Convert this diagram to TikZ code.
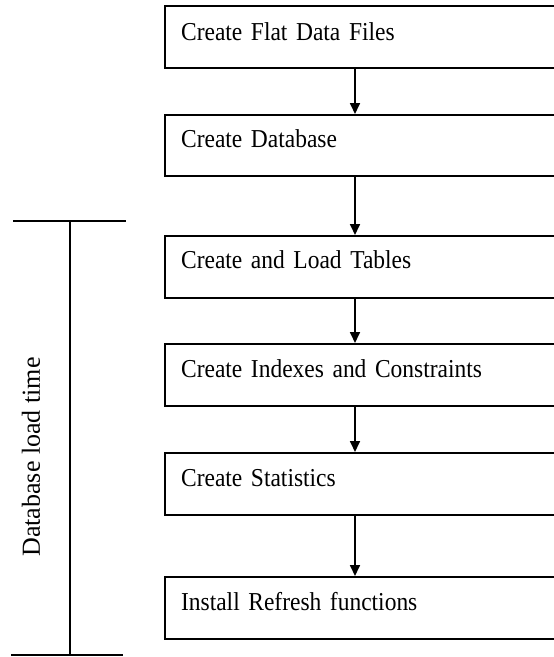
\documentclass[tikz,border=0pt]{standalone}
\usepackage{fontspec}
\setmainfont{Liberation Serif}
\newfontfamily\boxfont[FakeStretch=0.91]{Liberation Serif}
\protected\def\stepfont{\boxfont\fontsize{25.8}{30}\selectfont\spaceskip=4.5pt\relax}
\usetikzlibrary{arrows.meta}
\begin{document}
\begin{tikzpicture}[x=1pt,y=-1pt,
  stepbox/.style={draw, line width=2.2pt, anchor=north west, inner ysep=0pt,
    inner xsep=16pt, text width=420pt, align=left,
    text height=33pt, text depth=29pt, font=\stepfont},
  flow/.style={line width=1.7pt, -{Triangle[width=10pt,length=11pt]}},
  bar/.style={line width=1.8pt}]
  \useasboundingbox (0,0) rectangle (554,657);
  \clip (0,0) rectangle (554,657);
  \fill[white] (0,0) rectangle (554,657);

  % process steps
  \node[stepbox, text height=34pt, text depth=28pt] (b1) at (164,5) {Create Flat Data Files};
  \node[stepbox, text height=32pt, text depth=29pt] (b2) at (164,114) {Create Database};
  \node[stepbox, text height=32pt, text depth=30pt] (b3) at (164,235) {Create and Load Tables};
  \node[stepbox] (b4) at (164,343) {Create Indexes and Constraints};
  \node[stepbox] (b5) at (164,452) {Create Statistics};
  \node[stepbox] (b6) at (164,576) {Install Refresh functions};

  % flow arrows down the column
  \coordinate (ax) at (355,0);
  \draw[flow] (b1.south -| ax) -- (b2.north -| ax);
  \draw[flow] (b2.south -| ax) -- (b3.north -| ax);
  \draw[flow] (b3.south -| ax) -- (b4.north -| ax);
  \draw[flow] (b4.south -| ax) -- (b5.north -| ax);
  \draw[flow] (b5.south -| ax) -- (b6.north -| ax);

  % span marker for the load time
  \coordinate (tl) at (13,221);
  \coordinate (tr) at (126,221);
  \coordinate (tm) at (70,221);
  \coordinate (bl) at (11,655);
  \coordinate (br) at (123,655);
  \coordinate (bm) at (70,655);
  \draw[bar] (tl) -- (tr);
  \draw[bar] (bl) -- (br);
  \draw[bar] (tm) -- (bm);
  \node[rotate=90, font=\fontsize{26}{30}\selectfont, inner sep=0pt] (lbl) at (31,457) {Database load time};
\end{tikzpicture}
\end{document}
